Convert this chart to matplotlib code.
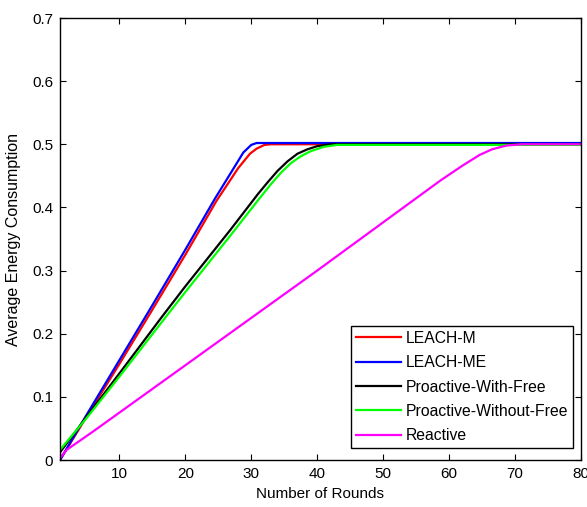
import matplotlib
matplotlib.use("Agg")
import matplotlib.pyplot as plt
from matplotlib.ticker import FuncFormatter

plt.rcParams['font.family'] = ['Liberation Sans', 'DejaVu Sans']

# Average energy consumption per round for each scheme
leach_m_rounds = [1, 5, 10, 15, 20, 24.7, 26.8, 28, 29.8, 30.8, 32, 33, 80]
leach_m_energy = [0.0, 0.068, 0.152, 0.238, 0.325, 0.410, 0.443, 0.462, 0.485, 0.493, 0.499, 0.500, 0.500]

leach_me_rounds = [1, 5, 10, 15, 20, 24.5, 26.8, 28.8, 30, 30.8, 80]
leach_me_energy = [0.0, 0.071, 0.158, 0.245, 0.333, 0.414, 0.453, 0.487, 0.499, 0.502, 0.502]

pro_free_rounds = [1, 5, 10, 16.4, 20, 26.8, 31, 32.5, 34, 35.5, 37, 38.5, 40, 42, 80]
pro_free_energy = [0.012, 0.068, 0.137, 0.226, 0.275, 0.364, 0.421, 0.440, 0.458, 0.473, 0.485, 0.492, 0.497, 0.500, 0.500]

pro_nofree_rounds = [1, 5, 10, 16.4, 20, 26.8, 31, 33, 34.5, 36, 37.5, 39, 41, 43, 80]
pro_nofree_energy = [0.016, 0.066, 0.132, 0.218, 0.266, 0.355, 0.411, 0.437, 0.455, 0.470, 0.481, 0.489, 0.496, 0.499, 0.499]

reactive_rounds = [1, 2, 6, 10, 20, 30, 40, 51, 58.6, 62, 64.6, 66.5, 68.7, 71, 80]
reactive_energy = [0.003, 0.016, 0.045, 0.075, 0.150, 0.225, 0.300, 0.384, 0.442, 0.466, 0.483, 0.492, 0.498, 0.500, 0.500]

series_labels = ['LEACH-M', 'LEACH-ME', 'Proactive-With-Free', 'Proactive-Without-Free', 'Reactive']
series_colors = ['#ff0000', '#0000ff', '#000000', '#00ff00', '#ff00ff']

x_ticks = [10, 20, 30, 40, 50, 60, 70, 80]
y_ticks = [0, 0.1, 0.2, 0.3, 0.4, 0.5, 0.6, 0.7]

fig = plt.figure(figsize=(5.87, 5.07), dpi=100)
ax = fig.add_axes([60 / 587, 47 / 507, 521 / 587, 442 / 507])

data = [
    (leach_m_rounds, leach_m_energy),
    (leach_me_rounds, leach_me_energy),
    (pro_free_rounds, pro_free_energy),
    (pro_nofree_rounds, pro_nofree_energy),
    (reactive_rounds, reactive_energy),
]
for (xs, ys), lab, col in zip(data, series_labels, series_colors):
    ax.plot(xs, ys, color=col, lw=1.6, label=lab)

ax.set_xlim(1, 80)
ax.set_ylim(0, 0.7)
ax.set_xticks(x_ticks)
ax.set_yticks(y_ticks)
ax.yaxis.set_major_formatter(FuncFormatter(lambda v, p: f"{v:g}"))
ax.tick_params(direction='in', top=True, right=True, length=4, width=0.8,
               labelsize=11, pad=5)
for s in ax.spines.values():
    s.set_linewidth(1.0)
    s.set_color('black')

ax.set_xlabel('Number of Rounds', fontsize=11, labelpad=4)
ax.set_ylabel('Average Energy Consumption', fontsize=11.5, labelpad=8)

leg = ax.legend(loc='lower right', bbox_to_anchor=(0.985, 0.027), borderaxespad=0,
                fancybox=False, edgecolor='black', framealpha=1, fontsize=11.3,
                handlelength=2.9, handletextpad=0.3, labelspacing=0.6,
                borderpad=0.3)
leg.get_frame().set_linewidth(1.0)

fig.savefig('out.png', dpi=100)
